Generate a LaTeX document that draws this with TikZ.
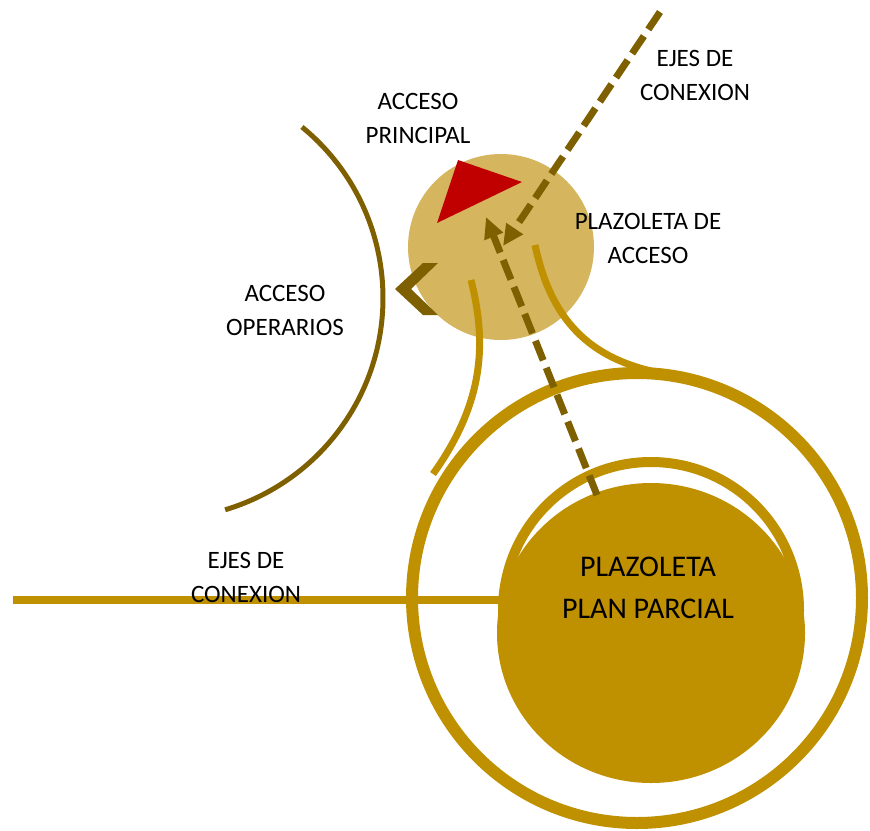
\documentclass[tikz,border=0pt]{standalone}
\usepackage{fontspec}
\setmainfont{Carlito}
\usepackage{tikz}
\usetikzlibrary{arrows.meta, calc}
\definecolor{oro}{HTML}{BF9000}
\definecolor{oroclaro}{HTML}{D5B65F}
\definecolor{cafe}{HTML}{7F6000}
\definecolor{rojo}{HTML}{C00000}

\tikzset{
	etiqueta/.style={align=center, inner sep=0pt, anchor=south, font=\fontsize{25}{34}\selectfont},
	eje/.style={cafe, line width=7pt, dash pattern=on 21pt off 8pt, -{Triangle[length=21pt, width=19pt]}},
	via/.style={oro, line width=7pt},
}

\begin{document}
\begin{tikzpicture}[x=1pt, y=-1pt]
	\useasboundingbox (0,0) rectangle (870,830);

	\coordinate (PA) at (501,247);   % plazoleta de acceso
	\coordinate (PG) at (637,598);   % anillo exterior
	\coordinate (PI) at (651,610);   % anillo interior
	\coordinate (PP) at (651,633);   % plazoleta plan parcial
	\coordinate (OP) at (162,298);   % centro del arco de operarios

	% plazoleta de acceso y acceso principal
	\fill[oroclaro] (PA) circle[radius=93];
	\coordinate (T1) at (458,160);
	\coordinate (T2) at (522,182);
	\coordinate (T3) at (437,223);
	\fill[rojo] (T1) -- (T2) -- (T3) -- cycle;

	% acceso operarios
	\draw[cafe, line width=5pt] ($ (OP)+(-50.7:221) $) arc[start angle=-50.7, end angle=73.4, radius=221];
	\fill[cafe] (395,289) -- (423,263) -- (438,263) -- (411,289) -- (438,315) -- (423,315) -- cycle;

	% vias que salen de la plazoleta
	\coordinate (V1) at (471,280);
	\coordinate (V2) at (433,474);
	\coordinate (V3) at (535,245);
	\coordinate (V4) at (672,375);
	\draw[via] (V1) .. controls (486,340) and (486,400) .. (V2);
	\draw[via] (V3) .. controls (550,315) and (585,362) .. (V4);

	% anillos y plazoleta plan parcial
	\draw[oro, line width=12pt] (PG) circle[radius=225];
	\draw[oro, line width=10pt] (PI) circle[radius=148];
	\fill[oro] (PP) ellipse[x radius=154, y radius=150];
	\coordinate (H1) at (13,600);
	\coordinate (H2) at (502,600);
	\draw[oro, line width=8pt] (H1) -- (H2);

	% ejes de conexion
	\coordinate (E1) at (660,12);
	\coordinate (E2) at (503,246);
	\coordinate (E3) at (597,495);
	\coordinate (E4) at (486,217);
	\draw[eje] (E1) -- (E2);
	\draw[eje] (E3) -- (E4);

	% textos
	\node[etiqueta] (accprin) at (418,144) {ACCESO\\PRINCIPAL};
	\node[etiqueta] (ejesa) at (695,101) {EJES DE\\CONEXION};
	\node[etiqueta] (placc) at (648,264) {PLAZOLETA DE\\ACCESO};
	\node[etiqueta] (accop) at (285,336) {ACCESO\\OPERARIOS};
	\node[etiqueta] (ejesb) at (246,603) {EJES DE\\CONEXION};
	\node[etiqueta, font=\fontsize{30}{42}\selectfont] (plpar) at (648,619) {PLAZOLETA\\PLAN PARCIAL};

\end{tikzpicture}
\end{document}
